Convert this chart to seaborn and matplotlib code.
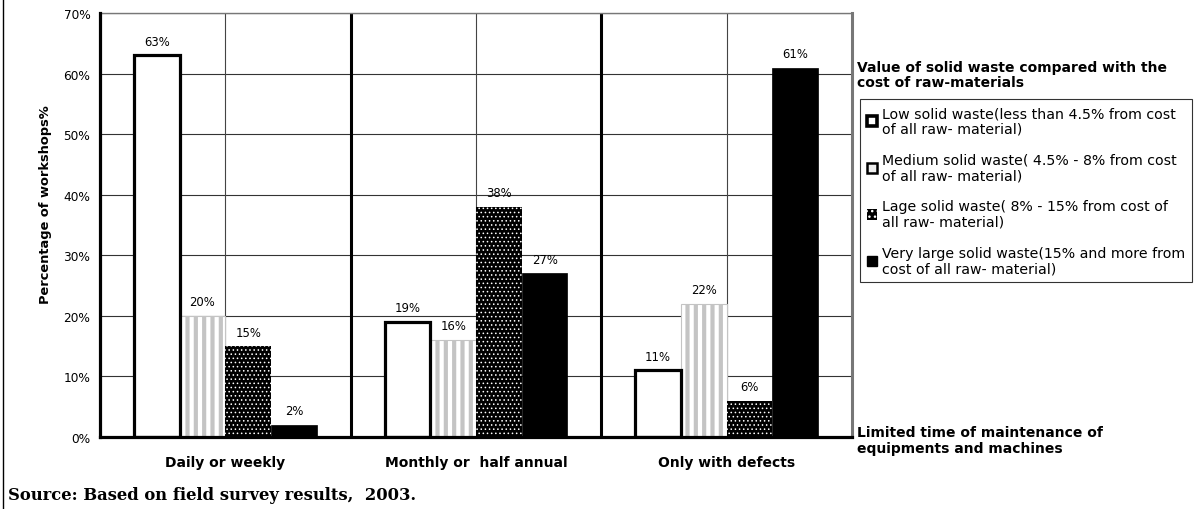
import matplotlib
matplotlib.use("Agg")
import matplotlib.pyplot as plt
import matplotlib.patches as mpatches
from matplotlib.lines import Line2D
import seaborn as sns
import pandas as pd

# Survey results: share of workshops by maintenance frequency and waste level
maintenance = ["Daily or weekly", "Monthly or  half annual", "Only with defects"]
waste_levels = [
    "Low solid waste(less than 4.5% from cost\nof all raw- material)",
    "Medium solid waste( 4.5% - 8% from cost\nof all raw- material)",
    "Lage solid waste( 8% - 15% from cost of\nall raw- material)",
    "Very large solid waste(15% and more from\ncost of all raw- material)",
]
low_waste = [63, 19, 11]
medium_waste = [20, 16, 22]
large_waste = [15, 38, 6]
very_large_waste = [2, 27, 61]

series = [low_waste, medium_waste, large_waste, very_large_waste]
df = pd.DataFrame(
    [(m, lvl, vals[i]) for lvl, vals in zip(waste_levels, series) for i, m in enumerate(maintenance)],
    columns=["maintenance", "waste", "pct"],
)

sns.set_theme(style="white")
plt.rcParams["font.family"] = ["DejaVu Sans"]
plt.rcParams.update({"text.color": "black", "axes.labelcolor": "black",
                     "xtick.color": "black", "ytick.color": "black"})

W, H = 1198, 510
fig = plt.figure(figsize=(W / 100, H / 100), dpi=100)
ax = fig.add_axes([100 / W, 1 - 438 / H, (852 - 100) / W, (438 - 14) / H])

sns.barplot(data=df, x="maintenance", y="pct", hue="waste", order=maintenance,
            hue_order=waste_levels, width=0.73, ax=ax, legend=False, zorder=3)

# Per-series fill styles
styles = [
    dict(facecolor="white", edgecolor="black", hatch=None, lw=2.3, hlw=1.0),
    dict(facecolor="white", edgecolor="#c4c4c4", hatch="||", lw=0.8, hlw=3.0),
    dict(facecolor="black", edgecolor="white", hatch="....", lw=0.0, hlw=0.6),
    dict(facecolor="black", edgecolor="black", hatch=None, lw=0.5, hlw=1.0),
]
bar_groups = ax.containers
for cont, st in zip(bar_groups, styles):
    for p in cont:
        p.set_facecolor(st["facecolor"])
        p.set_edgecolor(st["edgecolor"])
        p.set_linewidth(st["lw"])
        if st["hatch"]:
            p.set_hatch(st["hatch"])
        if hasattr(p, "set_hatch_linewidth"):
            p.set_hatch_linewidth(st["hlw"])
    ax.bar_label(cont, labels=[f"{v:.0f}%" for v in cont.datavalues],
                 padding=5.5, fontsize=8.4, color="black")

# Low-waste outlines sit above the neighbouring bars
for p in bar_groups[0]:
    p.set_zorder(4)

ax.set_xlim(-0.5, 2.5)
ax.set_ylim(0, 70)
ax.set_yticks(range(0, 71, 10))
ax.set_yticklabels([f"{v}%" for v in range(0, 71, 10)], fontsize=8.7)
ax.set_xticks([0, 1, 2])
ax.set_xticklabels(maintenance, fontsize=10, fontweight="bold")
ax.tick_params(axis="x", length=0, pad=13)
ax.tick_params(axis="y", length=4, width=2, direction="out", color="black", pad=3)
ax.set_xticks([-0.5, 0.5, 1.5, 2.5], minor=True)
ax.tick_params(axis="x", which="minor", length=6, width=2, color="black", direction="out")
ax.set_xlabel("")
ax.set_ylabel("Percentage of workshops%", fontsize=9.4, fontweight="bold")
ax.yaxis.set_label_coords(-0.064, 0.55)

# Grid: thin lines at every 10% and at group centres, thick group separators
for v in range(10, 71, 10):
    ax.axhline(v, color="#333333", lw=0.8, zorder=1)
for x in [0, 1, 2]:
    ax.axvline(x, color="#444444", lw=0.8, zorder=1)
for x in [0.5, 1.5]:
    ax.axvline(x, color="black", lw=2.2, zorder=2)

for side in ["top", "right"]:
    ax.spines[side].set_color("#777777")
    ax.spines[side].set_linewidth(1.0)
ax.spines["right"].set_linewidth(2.2)
for side in ["left", "bottom"]:
    ax.spines[side].set_color("black")
    ax.spines[side].set_linewidth(2.3)
    ax.spines[side].set_zorder(5)

# Legend with small patterned squares
handles = [
    mpatches.Patch(facecolor="white", edgecolor="black", linewidth=2.6),
    mpatches.Patch(facecolor="#eeeeee", edgecolor="black", linewidth=1.8),
    mpatches.Patch(facecolor="black", edgecolor="white", hatch="...", linewidth=0),
    mpatches.Patch(facecolor="black", edgecolor="black", linewidth=1.0),
]
leg = fig.legend(handles, waste_levels, loc="upper left",
                 bbox_to_anchor=(860 / W, 1 - 100 / H), bbox_transform=fig.transFigure,
                 frameon=True, fancybox=False, shadow=False, fontsize=10.2,
                 handlelength=0.72, handleheight=0.72, handletextpad=0.3,
                 labelspacing=1.22, borderpad=0.5, borderaxespad=0)
leg.get_frame().set_edgecolor("black")
leg.get_frame().set_linewidth(0.8)
for t in leg.get_texts():
    t.set_color("black")
    t.set_linespacing(1.12)

fig.text(857 / W, 1 - 61 / H, "Value of solid waste compared with the\ncost of raw-materials",
         fontsize=10, fontweight="bold", va="top", ha="left", linespacing=1.1)
fig.text(857 / W, 1 - 426 / H, "Limited time of maintenance of\nequipments and machines",
         fontsize=10, fontweight="bold", va="top", ha="left", linespacing=1.15)
fig.text(8 / W, 1 - 500 / H, "Source: Based on field survey results,  2003.",
         family=["DejaVu Serif"], fontsize=11.8, fontweight="bold",
         va="baseline", ha="left")

# Outer frame edge on the left
fig.add_artist(Line2D([3 / W, 3 / W], [0, 1], transform=fig.transFigure, color="black", lw=1.0))

fig.savefig("out.png", dpi=100)
